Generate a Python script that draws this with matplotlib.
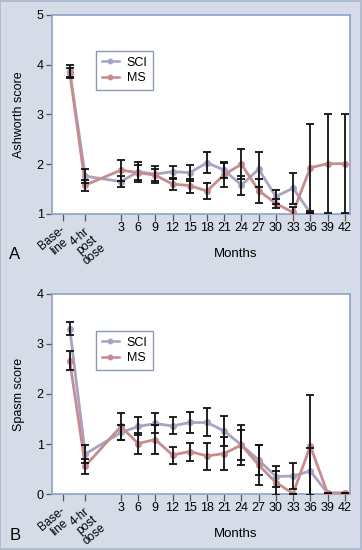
import numpy as np
import matplotlib
matplotlib.use("Agg")
import matplotlib.pyplot as plt
from matplotlib.patches import Rectangle

plt.rcParams["font.family"] = ["Liberation Sans", "DejaVu Sans"]

# ---------------- data ----------------
tick_labels = ["Base-\nline", "4-hr\npost\ndose", "3", "6", "9", "12", "15", "18",
               "21", "24", "27", "30", "33", "36", "39", "42"]
months = [3, 6, 9, 12, 15, 18, 21, 24, 27, 30, 33, 36, 39, 42]

nan = np.nan
sci_ashworth = [3.87, 1.76, 1.65, 1.85, 1.80, 1.85, 1.83, 2.03, 1.88, 1.58, 1.90, 1.35, 1.52, 1.02, nan, nan]
sci_ashworth_err = [0.12, 0.14, 0.11, 0.20, 0.17, 0.12, 0.16, 0.21, 0.15, 0.19, 0.35, 0.14, 0.31, 0.0, nan, nan]
ms_ashworth = [3.84, 1.58, 1.88, 1.83, 1.78, 1.60, 1.57, 1.46, 1.79, 2.00, 1.47, 1.21, 1.03, 1.93, 2.01, 2.01]
ms_ashworth_err = [0.10, 0.11, 0.21, 0.15, 0.12, 0.11, 0.14, 0.16, 0.25, 0.30, 0.24, 0.10, 0.10, 0.87, 1.00, 1.00]

sci_spasm = [3.30, 0.80, 1.23, 1.35, 1.41, 1.36, 1.43, 1.43, 1.26, 0.98, 0.68, 0.35, 0.36, 0.46, 0.02, 0.02]
sci_spasm_err = [0.13, 0.18, 0.15, 0.18, 0.20, 0.17, 0.21, 0.28, 0.29, 0.40, 0.30, 0.21, 0.26, 0.47, 0.0, 0.0]
ms_spasm = [2.66, 0.56, 1.35, 1.01, 1.09, 0.78, 0.85, 0.76, 0.81, 0.98, 0.58, 0.23, 0.01, 0.96, 0.02, 0.02]
ms_spasm_err = [0.19, 0.15, 0.26, 0.21, 0.28, 0.17, 0.18, 0.27, 0.33, 0.30, 0.40, 0.24, 0.0, 1.02, 0.0, 0.0]

# ---------------- style ----------------
BG = "#d5dce8"
SPINE = "#8fa2c6"
SCI_C = "#a8a3c2"
MS_C = "#c78c8e"

tick_pos = [-7.1, -3.3] + months
data_pos = np.array([-5.9, -3.2] + months, dtype=float)
label_shift = [-0.5, 0.2] + [0] * len(months)

fig = plt.figure(figsize=(3.62, 5.5), dpi=100, facecolor=BG)
fig.patches.append(Rectangle((0.001, 0.001), 0.997, 0.997, transform=fig.transFigure,
                             fill=False, edgecolor="#aab6cc", linewidth=1.2, zorder=10))

def panel(rect, sci, sci_err, ms, ms_err, ylim, yticks, ylabel, letter, legtop):
    ax = fig.add_axes(rect)
    ax.set_facecolor("white")
    for sp in ax.spines.values():
        sp.set_color(SPINE)
        sp.set_linewidth(1.2)
    for vals, errs, col, lab in [(sci, sci_err, SCI_C, "SCI"), (ms, ms_err, MS_C, "MS")]:
        v = np.array(vals, dtype=float)
        e = np.array(errs, dtype=float)
        ax.plot(data_pos, v, color=col, lw=2.0, marker="o", ms=4, mfc=col, mec=col,
                label=lab, zorder=3)
        ax.errorbar(data_pos, v, yerr=e, fmt="none", ecolor="#111111", elinewidth=1.3,
                    capsize=2.8, capthick=1.3, zorder=4)
    ax.set_xlim(-9, 42.9)
    ax.set_ylim(*ylim)
    ax.set_yticks(yticks)
    ax.set_xticks(tick_pos)
    ax.set_xticklabels([])
    ax.tick_params(axis="y", labelsize=9, length=4, width=0.9, color="#555555", pad=2)
    ax.tick_params(axis="x", length=5, width=0.9, color="#555555")
    trans = ax.get_xaxis_transform()
    for p, lab, sh in zip(tick_pos, tick_labels, label_shift):
        if "\n" in lab:
            ax.text(p + sh, -0.05, lab, transform=trans, rotation=40, rotation_mode="anchor",
                    ha="right", va="top", fontsize=8.5, linespacing=0.95, multialignment="center")
        else:
            ax.text(p, -0.04, lab, transform=trans, ha="center", va="top", fontsize=9)
    ax.set_ylabel(ylabel, fontsize=9)
    ax.yaxis.set_label_coords(-0.09, 0.5)
    ax.text(0.615, -0.2, "Months", transform=ax.transAxes, ha="center", va="center", fontsize=9.5)
    ax.text(-0.125, -0.205, letter, transform=ax.transAxes, ha="center", va="center", fontsize=12)
    leg = ax.legend(loc="upper left", bbox_to_anchor=(0.148, legtop), fontsize=9, frameon=True,
                    fancybox=False, handlelength=1.4, handletextpad=0.6, borderpad=0.45,
                    labelspacing=0.3, markerscale=0.8, borderaxespad=0)
    leg.get_frame().set_edgecolor("#6d80a8")
    leg.get_frame().set_linewidth(1.0)
    for h in leg.get_lines():
        h.set_linewidth(1.8)
    return ax

panel([0.1436, 0.611, 0.823, 0.3618], sci_ashworth, sci_ashworth_err, ms_ashworth, ms_ashworth_err,
      (1, 5), [1, 2, 3, 4, 5], "Ashworth score", "A", 0.819)
panel([0.1436, 0.1018, 0.823, 0.3637], sci_spasm, sci_spasm_err, ms_spasm, ms_spasm_err,
      (0, 4), [0, 1, 2, 3, 4], "Spasm score", "B", 0.815)

fig.savefig("out.png", dpi=100, facecolor=BG)
